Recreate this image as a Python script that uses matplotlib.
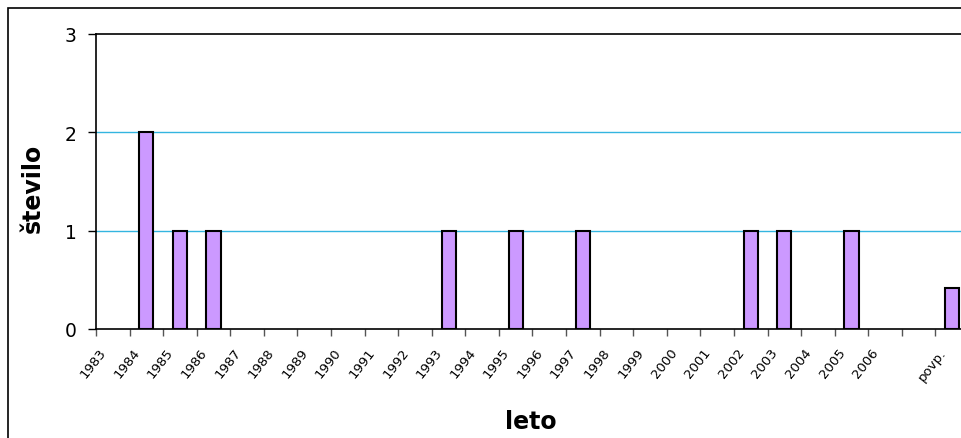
import matplotlib
matplotlib.use("Agg")
import matplotlib.pyplot as plt
import matplotlib.patches as patches
from matplotlib.transforms import ScaledTranslation
import numpy as np

categories = [str(y) for y in range(1983, 2007)] + ["", "povp."]
values = [0, 2, 1, 1, 0, 0, 0, 0, 0, 0, 1, 0, 1, 0, 1, 0, 0, 0, 0, 1, 1, 0, 1, 0, 0, 0.42]
yticks = [0, 1, 2, 3]

W, H = 962, 439
fig = plt.figure(figsize=(W / 100, H / 100), dpi=100)

# outer chart frame (cropped at right and bottom)
fig.patches.append(patches.Rectangle((8 / W, -0.2), 1.2, (H - 9) / H + 0.2,
                                     transform=fig.transFigure, fill=False,
                                     edgecolor="black", linewidth=1.2))

left, right, top, bottom = 96, 969, 35, 330
ax = fig.add_axes([left / W, (H - bottom) / H, (right - left) / W, (bottom - top) / H])

x = np.arange(len(categories))
vals = np.array(values, dtype=float)
nz = vals > 0
ax.bar(x[nz], vals[nz], width=0.42, color="#cc99ff", edgecolor="black", linewidth=1.5, zorder=3)

ax.set_xlim(-0.5, len(categories) - 0.5)
ax.set_ylim(0, 3)

for v in [1, 2]:
    ax.axhline(v, color="#33b5e0", linewidth=1.0, zorder=1)

ax.spines["right"].set_visible(False)
for s in ["left", "top", "bottom"]:
    ax.spines[s].set_linewidth(1.2)
    ax.spines[s].set_color("black")

ax.set_yticks(yticks)
ax.set_yticklabels([str(t) for t in yticks], fontsize=13.5)
ax.tick_params(axis="y", direction="out", length=6, width=1, pad=8)

ax.set_xticks(np.arange(len(categories) + 1) - 0.5)
ax.set_xticklabels([])
ax.tick_params(axis="x", which="major", direction="out", length=5, width=1, color="#555555")
ax.set_xticks(x, minor=True)
ax.set_xticklabels(categories, minor=True, fontsize=9.5, rotation=52,
                   ha="right", va="top", rotation_mode="anchor")
ax.tick_params(axis="x", which="minor", length=0, pad=12)
offset = ScaledTranslation(-14 / 100, 0, fig.dpi_scale_trans)
for lbl in ax.get_xticklabels(minor=True):
    lbl.set_transform(lbl.get_transform() + offset)

fig.text(33 / W, 1 - 188 / H, "število", rotation=90, fontsize=17, fontweight="bold",
         ha="center", va="center")
fig.text(531 / W, 1 - 422 / H, "leto", fontsize=17, fontweight="bold",
         ha="center", va="center")

fig.savefig("out.png", dpi=100)
